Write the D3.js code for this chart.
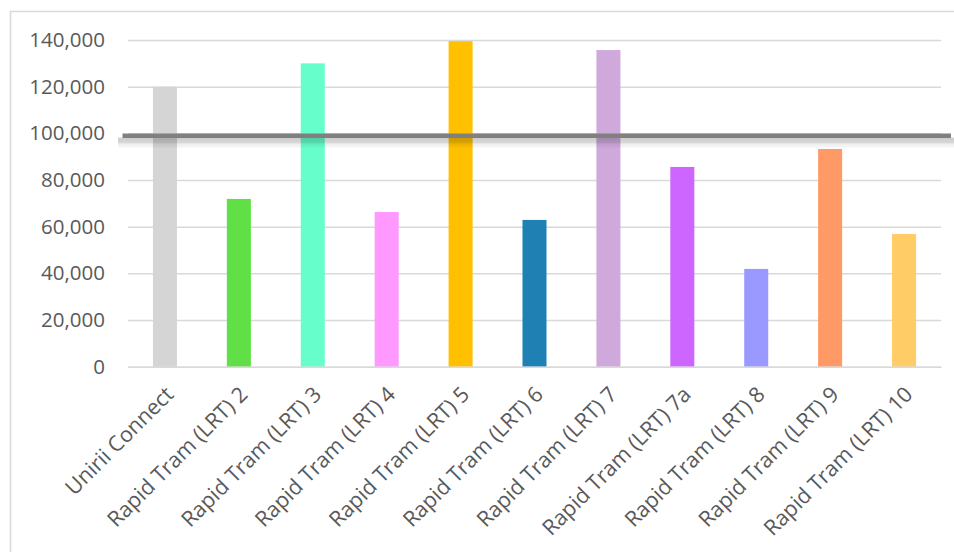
<!DOCTYPE html>
<html>
<head>
<meta charset="utf-8">
<script src="https://cdn.jsdelivr.net/npm/d3@7"></script>
<style>
  html, body { margin: 0; padding: 0; background: #fff; }
  svg { display: block; font-family: "Open Sans", sans-serif; }
</style>
</head>
<body>
<svg id="chart" width="954" height="552"></svg>
<script>
// Ridership per line
const categories = [
  "Unirii Connect",
  "Rapid Tram (LRT) 2",
  "Rapid Tram (LRT) 3",
  "Rapid Tram (LRT) 4",
  "Rapid Tram (LRT) 5",
  "Rapid Tram (LRT) 6",
  "Rapid Tram (LRT) 7",
  "Rapid Tram (LRT) 7a",
  "Rapid Tram (LRT) 8",
  "Rapid Tram (LRT) 9",
  "Rapid Tram (LRT) 10"
];
const values = [120000, 71900, 130000, 66300, 139500, 62900, 135700, 85600, 41900, 93300, 56900];
const barColors = ["#d5d5d5", "#60e046", "#66ffcc", "#ff99ff", "#ffc000", "#1f80b4",
                   "#cfa9db", "#cc66ff", "#9999ff", "#ff9966", "#ffcc66"];
const yTicks = [0, 20000, 40000, 60000, 80000, 100000, 120000, 140000];
const threshold = 99000;

const svg = d3.select("#chart");
const margin = { left: 128, right: 13, top: 40, bottom: 185 };
const W = 954, H = 552;

const x = d3.scaleBand()
  .domain(categories)
  .range([margin.left, W - margin.right])
  .paddingInner(0.675)
  .paddingOuter(0.3375);

const y = d3.scaleLinear()
  .domain([0, 140000])
  .range([H - margin.bottom - 0.3, margin.top]);

// chart frame
svg.append("rect")
  .attr("x", 10.5).attr("y", 11.5)
  .attr("width", 1000).attr("height", 1000)
  .attr("fill", "none")
  .attr("stroke", "#d9d9d9")
  .attr("stroke-width", 1.5);

// gridlines
const yAxis = d3.axisLeft(y)
  .tickValues(yTicks)
  .tickSize(-(W - margin.right - margin.left))
  .tickPadding(23)
  .tickFormat(d3.format(","));

const gy = svg.append("g")
  .attr("transform", `translate(${margin.left},0)`)
  .call(yAxis);
gy.select(".domain").remove();
gy.selectAll(".tick line")
  .attr("stroke", "#d9d9d9")
  .attr("stroke-width", 1.5);
gy.selectAll(".tick text")
  .attr("fill", "#595959")
  .attr("font-size", "20.5px")
  .attr("font-family", "'Open Sans', sans-serif");

// bars
svg.append("g")
  .selectAll("rect")
  .data(values)
  .join("rect")
  .attr("x", (d, i) => x(categories[i]))
  .attr("width", x.bandwidth())
  .attr("y", d => y(d))
  .attr("height", d => y(0) - y(d))
  .attr("fill", (d, i) => barColors[i]);

// category axis
const xAxis = d3.axisBottom(x).tickSize(0).tickPadding(0);
const gx = svg.append("g")
  .attr("transform", `translate(0,${y(0)})`)
  .call(xAxis);
gx.select(".domain")
  .attr("stroke", "#d9d9d9")
  .attr("stroke-width", 1.5);
gx.selectAll(".tick text")
  .attr("fill", "#595959")
  .attr("font-size", "21.5px")
  .attr("font-family", "'Open Sans', sans-serif")
  .attr("text-anchor", "end")
  .attr("dy", null)
  .attr("y", 0)
  .attr("transform", "translate(10,29) rotate(-45)");

// threshold line with soft drop shadow
const ty = y(threshold);
const defs = svg.append("defs");
const grad = defs.append("linearGradient")
  .attr("id", "shadowFade")
  .attr("x1", 0).attr("y1", 0).attr("x2", 0).attr("y2", 1);
grad.append("stop").attr("offset", "0%").attr("stop-color", "#000").attr("stop-opacity", 0.2);
grad.append("stop").attr("offset", "55%").attr("stop-color", "#000").attr("stop-opacity", 0.15);
grad.append("stop").attr("offset", "60%").attr("stop-color", "#000").attr("stop-opacity", 0.07);
grad.append("stop").attr("offset", "100%").attr("stop-color", "#000").attr("stop-opacity", 0.03);

svg.append("rect")
  .attr("x", 118).attr("width", W - 118)
  .attr("y", ty + 2).attr("height", 10)
  .attr("fill", "url(#shadowFade)");

svg.append("line")
  .attr("x1", 122.5).attr("x2", 951)
  .attr("y1", ty).attr("y2", ty)
  .attr("stroke", "#808080")
  .attr("stroke-width", 4.5);
</script>
</body>
</html>
